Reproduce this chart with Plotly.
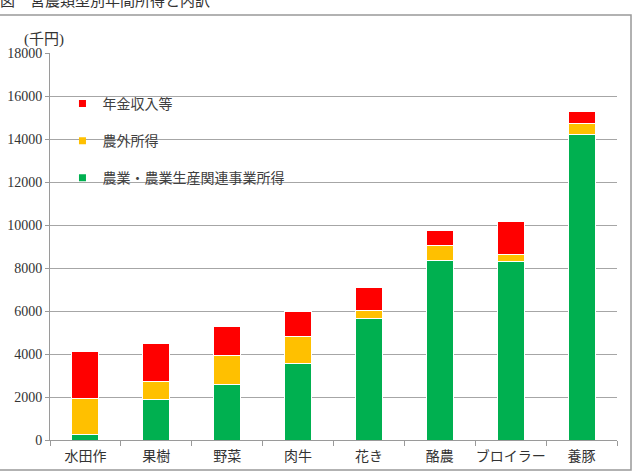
import plotly.graph_objects as go

categories = ["水田作", "果樹", "野菜", "肉牛", "花き", "酪農", "ブロイラー", "養豚"]
farm_income = [260, 1890, 2590, 3570, 5660, 8340, 8280, 14190]
nonfarm_income = [1680, 850, 1360, 1240, 350, 720, 340, 540]
pension_income = [2160, 1740, 1340, 1190, 1070, 700, 1550, 570]
y_ticks = [0, 2000, 4000, 6000, 8000, 10000, 12000, 14000, 16000, 18000]
y_tick_labels = [str(v) for v in y_ticks]

series = [
    ("農業・農業生産関連事業所得", farm_income, "#00B050"),
    ("農外所得", nonfarm_income, "#FFC000"),
    ("年金収入等", pension_income, "#FF0000"),
]

fig = go.Figure()
for name, vals, col in series:
    fig.add_trace(go.Bar(
        x=categories, y=vals, name=name, marker_color=col,
        marker_line_color="white", marker_line_width=1,
        width=0.38, showlegend=False,
    ))
for i, (name, vals, col) in enumerate(reversed(series)):
    fig.add_trace(go.Scatter(
        x=[None], y=[None], mode="markers", name=name,
        marker=dict(symbol="square", size=7, color=col),
        legendgroup=f"g{i}", showlegend=True,
    ))

serif = "Liberation Serif, Noto Sans CJK JP, serif"
fig.update_layout(
    width=633, height=475,
    margin=dict(l=50, r=16, t=53, b=35),
    paper_bgcolor="white", plot_bgcolor="white",
    barmode="stack",
    title=dict(text="図　営農類型別年間所得と内訳", x=0, xanchor="left", xref="container",
               y=0.998, yanchor="middle", yref="container",
               font=dict(family=serif, size=15, color="#333333")),
    xaxis=dict(showline=True, linecolor="#9a9a9a", linewidth=1,
               ticks="outside", tickcolor="#9a9a9a", ticklen=5, tickson="boundaries",
               tickangle=0, automargin=False, ticklabelstandoff=3,
               tickfont=dict(family=serif, size=14, color="#333333"),
               showgrid=False),
    yaxis=dict(range=[0, 18000], tickvals=y_ticks, ticktext=y_tick_labels,
               showline=True, linecolor="#9a9a9a", linewidth=1,
               ticks="outside", tickcolor="#9a9a9a", ticklen=4, automargin=False,
               gridcolor="#a6a6a6", gridwidth=1, zeroline=False,
               tickfont=dict(family="Liberation Serif", size=14, color="#333333")),
    legend=dict(x=0.022, y=0.91, xanchor="left", yanchor="top",
                traceorder="grouped", tracegroupgap=16,
                bgcolor="rgba(0,0,0,0)",
                font=dict(family="Noto Sans CJK JP", size=14, color="#404040"),
                itemwidth=30),
    annotations=[dict(text="(千円)", xref="paper", yref="paper", x=-0.05, y=1.034,
                      xanchor="left", yanchor="middle", showarrow=False,
                      font=dict(family=serif, size=15, color="#333333"))],
    shapes=[dict(type="rect", xref="paper", yref="paper",
                 x0=-0.095, x1=1.0247, y0=-0.0775, y1=1.0982,
                 line=dict(color="#999999", width=1.5), fillcolor="rgba(0,0,0,0)", layer="below")],
)

fig.write_html("out.html")
